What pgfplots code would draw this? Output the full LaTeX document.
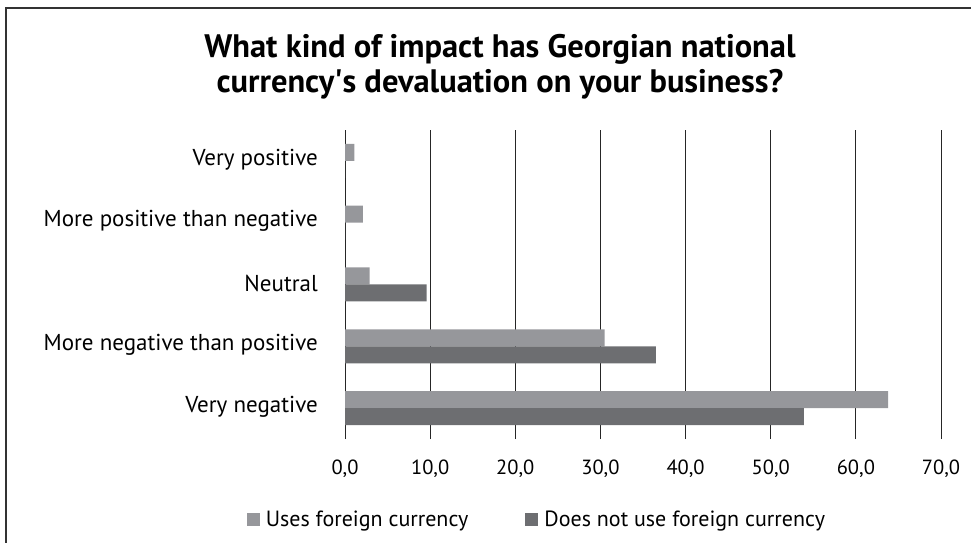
\documentclass[border=0pt]{standalone}
\usepackage{pgfplots}
\pgfplotsset{compat=1.18}
\usepackage{fontspec}
\setmainfont{PT Sans}
\definecolor{lightbar}{HTML}{96979B}
\definecolor{darkbar}{HTML}{6D6E71}
\begin{document}
\begin{tikzpicture}[x=1pt,y=1pt]
\useasboundingbox (0,0) rectangle (971,543);
\draw[line width=1.5pt, black!80] (6,-5) -- (6,535) -- (976,535);
\node[font=\bfseries\fontsize{32.5}{35}\selectfont, align=center] at (500,476) {What kind of impact has Georgian national\\currency\textquotesingle s devaluation on your business?};
\begin{axis}[
  at={(345pt,104pt)}, anchor=south west,
  scale only axis, width=596pt, height=309pt,
  xbar, bar width=17pt,
  xmin=0, xmax=70, ymin=-0.5, ymax=4.5,
  xtick={0,10,...,70}, ytick={0,1,2,3,4},
  yticklabels={Very negative, More negative than positive, Neutral, More positive than negative, Very positive},
  axis line style={draw=none},
  major tick length=0pt,
  xmajorgrids, grid style={black!85, line width=1pt},
  xticklabel style={font=\fontsize{20.5}{24}\selectfont, anchor=center, yshift=-30pt,
    /pgf/number format/fixed, /pgf/number format/fixed zerofill,
    /pgf/number format/precision=1, /pgf/number format/use comma,
    /pgf/number format/assume math mode=true},
  yticklabel style={font=\fontsize{23}{27}\selectfont, anchor=east, inner sep=0pt, xshift=-27pt, yshift=1.5pt},
  legend style={at={(0.322,-0.262)}, anchor=center, draw=none, fill=none,
    font=\fontsize{22}{26}\selectfont, legend columns=2,
    /tikz/every odd column/.append style={column sep=4pt},
    /tikz/every even column/.append style={column sep=55pt}},
  legend image code/.code={\fill[#1] (0pt,-6pt) rectangle (13pt,7pt);},
]
\addplot[fill=lightbar, draw=none, bar shift=8.5pt] coordinates {(63.8,0) (30.5,1) (2.9,2) (2.1,3) (1.1,4)};
\addlegendentry{Uses foreign currency}
\addplot[fill=darkbar, draw=none, bar shift=-8.5pt] coordinates {(53.9,0) (36.5,1) (9.6,2) (0,3) (0,4)};
\addlegendentry{Does not use foreign currency}
\end{axis}
\end{tikzpicture}
\end{document}
